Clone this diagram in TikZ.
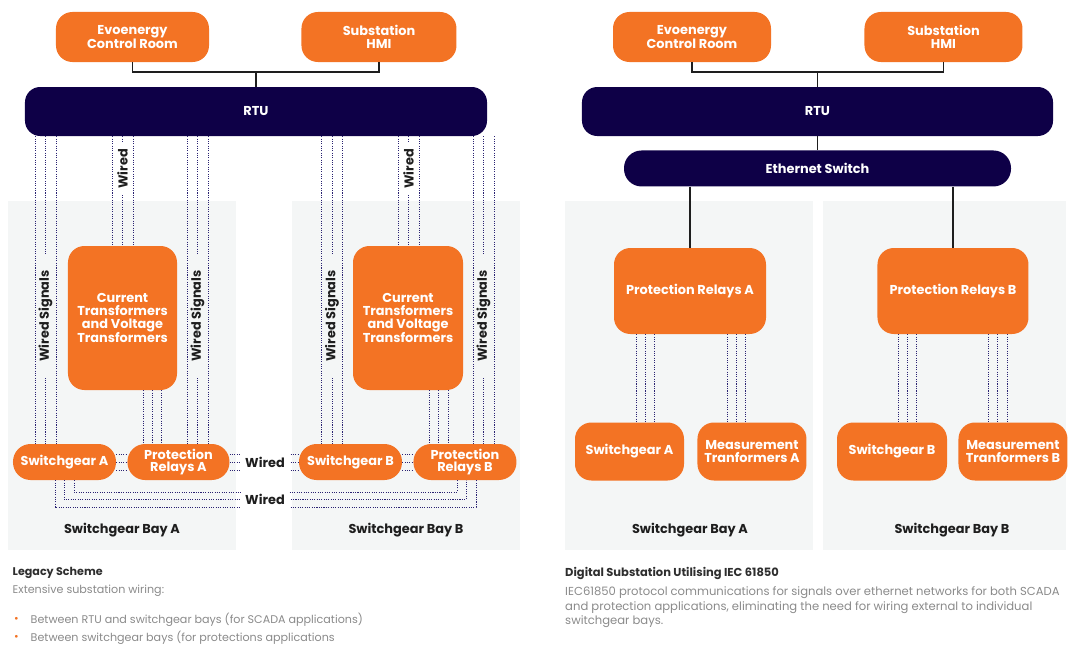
\documentclass[tikz,border=0pt]{standalone}
\usepackage{fontspec}
\setmainfont{Poppins}
\usetikzlibrary{positioning}
\definecolor{evo}{HTML}{F37324}
\definecolor{navy}{HTML}{0E0047}
\definecolor{bayfill}{HTML}{F4F6F6}
\definecolor{wirec}{HTML}{2A2272}
\definecolor{ink}{HTML}{1E1E1E}
\definecolor{heading}{HTML}{2E2E2E}
\definecolor{muted}{HTML}{8A8A8A}
\newcommand{\lblfont}{\fontsize{11}{11}\selectfont\bfseries}
\newcommand{\bodyfont}{\fontsize{9.5}{12.4}\selectfont}
\tikzset{
  box/.style={
    fill=evo, rounded corners=14pt, text=white,
    inner sep=2pt, align=center, font=\lblfont
  },
  pill/.style={box, rounded corners=15pt, minimum height=1.08cm},
  bus/.style={
    fill=navy, rounded corners=13pt, text=white,
    align=center, font=\lblfont
  },
  bay/.style={fill=bayfill},
  link/.style={draw=ink, line width=1pt},
  wire/.style={draw=wirec, line width=0.6pt, dash pattern=on 0.9pt off 1.1pt},
  wiretag/.style={text=ink, font=\lblfont, inner ysep=0.5pt},
  vtag/.style={wiretag, rotate=90},
  txt/.style={anchor=west, inner sep=0pt, font=\bodyfont, text=muted},
  txthead/.style={txt, font=\fontsize{9.5}{11}\selectfont\bfseries, text=heading}
}

\begin{document}
\begin{tikzpicture}[x=0.03cm, y=-0.03cm]
\useasboundingbox (0,0) rectangle (1069,644);

\fill[bay] (8,201) rectangle (236,550);
\fill[bay] (292,201) rectangle (520,550);
\fill[bay] (565,201) rectangle (813,550);
\fill[bay] (823,201) rectangle (1066,550);

% legacy scheme
\node[box, minimum width=4.59cm, minimum height=1.5cm] (evoL) at (132.5,37) {Evoenergy\\Control Room};
\node[box, minimum width=4.65cm, minimum height=1.5cm, right=2.76cm of evoL] (hmiL) {Substation\\HMI};
\node[bus, minimum width=13.86cm, minimum height=1.47cm] (rtuL) at (256,111.5) {RTU};
\node[box, minimum width=3.27cm, minimum height=4.32cm] (ctA) at (122.5,318) {Current\\Transformers\\and Voltage\\Transformers};
\node[box, minimum width=3.3cm, minimum height=4.32cm] (ctB) at (408,318) {Current\\Transformers\\and Voltage\\Transformers};
\node[pill, minimum width=3.09cm] (swA) at (64.5,462) {Switchgear A};
\node[pill, minimum width=3.06cm, right=0.33cm of swA] (prA) {Protection\\Relays A};
\node[pill, minimum width=3.09cm] (swB) at (350.5,462) {Switchgear B};
\node[pill, minimum width=3.09cm, right=0.33cm of swB] (prB) {Protection\\Relays B};

\coordinate (jL) at (rtuL.north |- 0,72);
\draw[link] (evoL.south) |- (jL) -| (hmiL.south);
\draw[link] (jL) -- (rtuL.north);

\foreach \x in {35,45.5,56} \draw[wire] (rtuL.south -| \x,0) -- (swA.north -| \x,0);
\foreach \x in {112,122.5,133} \draw[wire] (rtuL.south -| \x,0) -- (ctA.north -| \x,0);
\foreach \x in {187,197.5,208} \draw[wire] (rtuL.south -| \x,0) -- (prA.north -| \x,0);
\foreach \x in {143,152,161} \draw[wire] (ctA.south -| \x,0) -- (prA.north -| \x,0);
\foreach \x in {321.5,332,342.5} \draw[wire] (rtuL.south -| \x,0) -- (swB.north -| \x,0);
\foreach \x in {398,408.5,419} \draw[wire] (rtuL.south -| \x,0) -- (ctB.north -| \x,0);
\foreach \x in {473,483.5,494} \draw[wire] (rtuL.south -| \x,0) -- (prB.north -| \x,0);
\foreach \x in {429,438.5,448} \draw[wire] (ctB.south -| \x,0) -- (prB.north -| \x,0);
\foreach \y in {454,462,470} {
  \draw[wire] (swA.east |- 0,\y) -- (prA.west |- 0,\y);
  \draw[wire] (prA.east |- 0,\y) -- (swB.west |- 0,\y);
  \draw[wire] (swB.east |- 0,\y) -- (prB.west |- 0,\y);
}
\foreach \xa/\xb/\yy in {74/457/492, 64/466/499.5, 55/476/507}
  \draw[wire] (swA.south -| \xa,0) -- (\xa,\yy) -- (\xb,\yy) -- (prB.south -| \xb,0);

\node[vtag, fill=bayfill, inner xsep=14pt] (sigA1) at (45.5,316) {Wired Signals};
\node[vtag, fill=bayfill, inner xsep=14pt] (sigA2) at (197.5,316) {Wired Signals};
\node[vtag, fill=bayfill, inner xsep=14pt] (sigB1) at (332,316) {Wired Signals};
\node[vtag, fill=bayfill, inner xsep=14pt] (sigB2) at (483.5,316) {Wired Signals};
\node[vtag, fill=white, inner xsep=5pt] (wrdA) at (122.5,169) {Wired};
\node[vtag, fill=white, inner xsep=5pt] (wrdB) at (408.5,169) {Wired};
\node[wiretag, fill=white, minimum height=17pt, inner xsep=4pt] (wrdH1) at (265,462) {Wired};
\node[wiretag, fill=white, minimum height=17pt, inner xsep=4pt] (wrdH2) at (265,499.5) {Wired};

\node[wiretag] (bayAL) at (122,530) {Switchgear Bay A};
\node[wiretag] (bayBL) at (406,530) {Switchgear Bay B};

\node[txthead] (legT) at (12.5,573) {Legacy Scheme};
\node[txt] (legD) at (12.5,591) {Extensive substation wiring:};
\node[txt, text=evo] (dotA) at (14,620) {\textbullet};
\node[txt] (legA) at (30.5,620) {Between RTU and switchgear bays (for SCADA applications)};
\node[txt, text=evo] (dotB) at (14,638) {\textbullet};
\node[txt] (legB) at (30.5,638) {Between switchgear bays (for protections applications};

% digital substation
\node[box, minimum width=4.74cm, minimum height=1.5cm] (evoR) at (692,37) {Evoenergy\\Control Room};
\node[box, minimum width=4.74cm, minimum height=1.5cm, right=2.79cm of evoR] (hmiR) {Substation\\HMI};
\node[bus, minimum width=14.13cm, minimum height=1.47cm] (rtuR) at (817.5,111.5) {RTU};
\node[bus, rounded corners=15pt, minimum width=11.61cm, minimum height=1.08cm, below=0.42cm of rtuR] (ethR) {Ethernet Switch};
\node[box, minimum width=4.56cm, minimum height=2.58cm] (prAR) at (690,291) {Protection Relays A};
\node[box, minimum width=4.53cm, minimum height=2.58cm, right=3.33cm of prAR] (prBR) {Protection Relays B};
\node[box, minimum width=3.27cm, minimum height=1.74cm] (swAR) at (629.5,451.5) {Switchgear A};
\node[box, minimum width=3.27cm, minimum height=1.74cm, right=0.39cm of swAR] (mtA) {Measurement\\Tranformers A};
\node[box, minimum width=3.3cm, minimum height=1.74cm] (swBR) at (892,451.5) {Switchgear B};
\node[box, minimum width=3.27cm, minimum height=1.74cm, right=0.33cm of swBR] (mtB) {Measurement\\Tranformers B};

\coordinate (jR) at (rtuR.north |- 0,72);
\draw[link] (evoR.south) |- (jR) -| (hmiR.south);
\draw[link] (jR) -- (rtuR.north);
\draw[link] (rtuR.south) -- (ethR.north);
\draw[link] (prAR.north |- ethR.south) -- (prAR.north);
\draw[link] (prBR.north |- ethR.south) -- (prBR.north);

\foreach \x in {636,645,654} \draw[wire] (prAR.south -| \x,0) -- (swAR.north -| \x,0);
\foreach \x in {727,736,745} \draw[wire] (prAR.south -| \x,0) -- (mtA.north -| \x,0);
\foreach \x in {898,907,916} \draw[wire] (prBR.south -| \x,0) -- (swBR.north -| \x,0);
\foreach \x in {988,997,1007} \draw[wire] (prBR.south -| \x,0) -- (mtB.north -| \x,0);

\node[wiretag] (bayAR) at (690,530) {Switchgear Bay A};
\node[wiretag] (bayBR) at (952,530) {Switchgear Bay B};

\node[txthead, font=\fontsize{9.8}{11}\selectfont\bfseries] (digT) at (565,573) {Digital Substation Utilising IEC 61850};
\node[txt, anchor=north west, align=left, font=\fontsize{9.9}{12.4}\selectfont] (digD) at (565,586.5) {IEC61850 protocol communications for signals over ethernet networks for both SCADA\\and protection applications, eliminating the need for wiring external to individual\\switchgear bays.};
\end{tikzpicture}
\end{document}
